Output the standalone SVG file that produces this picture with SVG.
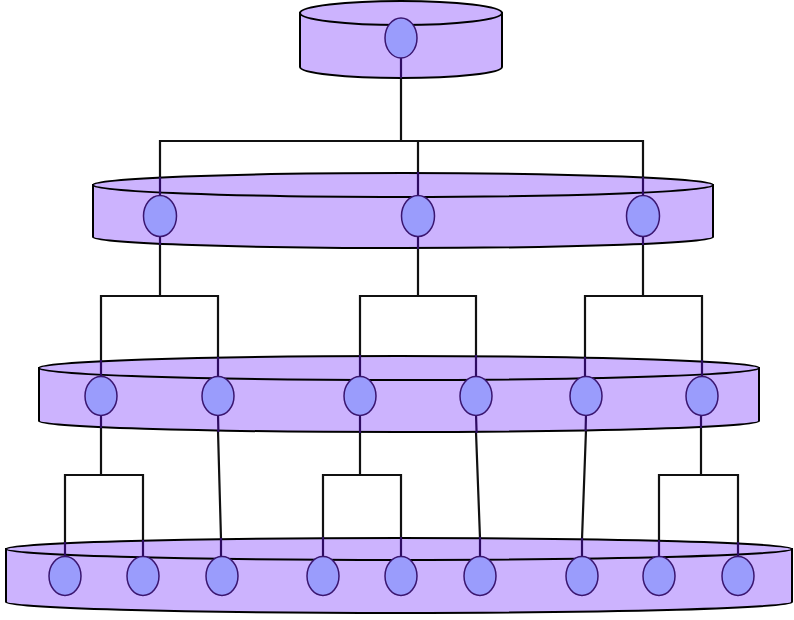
<svg xmlns="http://www.w3.org/2000/svg" width="794" height="620" viewBox="0 0 794 620">
<style>
.tier{fill:#ccb3fe;stroke:#000;stroke-width:2}
.node{fill:#9a9cfc;stroke:#3a1670;stroke-width:1.5}
.wire{fill:none;stroke:#111;stroke-width:2.2;stroke-linejoin:miter}
.stub{fill:none;stroke:#2e0c62;stroke-width:2.2}
</style>
<rect width="794" height="620" fill="#fff"/>
<g id="tier1">
<path class="tier" d="M300,13 V67 A101,11 0 0 0 502,67 V13 Z"/>
<ellipse class="tier" cx="401" cy="13" rx="101" ry="12"/>
</g>
<g id="tier2">
<path class="tier" d="M93,185 V237 A310,11 0 0 0 713,237 V185 Z"/>
<ellipse class="tier" cx="403" cy="185" rx="310" ry="12"/>
</g>
<g id="tier3">
<path class="tier" d="M39,368 V421 A360,11 0 0 0 759,421 V368 Z"/>
<ellipse class="tier" cx="399" cy="368" rx="360" ry="12"/>
</g>
<g id="tier4">
<path class="tier" d="M6,549 V602 A393,11 0 0 0 792,602 V549 Z"/>
<ellipse class="tier" cx="399" cy="549" rx="393" ry="11"/>
</g>
<g id="connectors">
<path class="wire" d="M401,78 V141 M160,178 V141 H643 V178 M418,141 V173"/>
<path class="wire" d="M160,244 V296 M101,361 V296 H218 V358 M418,248 V296 M360,356 V296 H476 V356 M643,244 V296 M585,358 V296 H702 V361"/>
<path class="wire" d="M101,427 V475 M65,543 V475 H143 V541 M218,431 L221,539 M360,432 V475 M323,538 V475 H401 V538 M476,432 L480,538 M586,430 L582,539 M701,427 V475 M659,541 V475 H738 V543"/>
<path class="stub" d="M401,58 V78 M160,177 V196 M418,172 V196 M643,177 V196 M160,236 V245 M418,236 V249 M643,236 V245"/>
<path class="stub" d="M101,360 V377 M218,357 V377 M360,355 V377 M476,355 V377 M585,357 V377 M702,360 V377 M101,414 V428 M218,414 L218.4,432 M360,414 V433 M476,414 L476.6,433 M586,414 L585.6,431 M701,414 V428"/>
<path class="stub" d="M65,542 V557 M143,540 V557 M221,538 V557 M323,537 V557 M401,537 V557 M480,537 V557 M582,538 V557 M659,540 V557 M738,542 V557"/>
</g>
<g id="node-root"><ellipse class="node" cx="401" cy="38" rx="16" ry="20"/></g>
<g id="nodes-l2">
<ellipse class="node" cx="160" cy="216" rx="16.5" ry="20.5"/>
<ellipse class="node" cx="418" cy="216" rx="16.5" ry="20.5"/>
<ellipse class="node" cx="643" cy="216" rx="16.5" ry="20.5"/>
</g>
<g id="nodes-l3">
<ellipse class="node" cx="101" cy="396" rx="16" ry="19.5"/>
<ellipse class="node" cx="218" cy="396" rx="16" ry="19.5"/>
<ellipse class="node" cx="360" cy="396" rx="16" ry="19.5"/>
<ellipse class="node" cx="476" cy="396" rx="16" ry="19.5"/>
<ellipse class="node" cx="586" cy="396" rx="16" ry="19.5"/>
<ellipse class="node" cx="702" cy="396" rx="16" ry="19.5"/>
</g>
<g id="nodes-l4">
<ellipse class="node" cx="65" cy="576" rx="16" ry="19.5"/>
<ellipse class="node" cx="143" cy="576" rx="16" ry="19.5"/>
<ellipse class="node" cx="222" cy="576" rx="16" ry="19.5"/>
<ellipse class="node" cx="323" cy="576" rx="16" ry="19.5"/>
<ellipse class="node" cx="401" cy="576" rx="16" ry="19.5"/>
<ellipse class="node" cx="480" cy="576" rx="16" ry="19.5"/>
<ellipse class="node" cx="582" cy="576" rx="16" ry="19.5"/>
<ellipse class="node" cx="659" cy="576" rx="16" ry="19.5"/>
<ellipse class="node" cx="738" cy="576" rx="16" ry="19.5"/>
</g>
</svg>
